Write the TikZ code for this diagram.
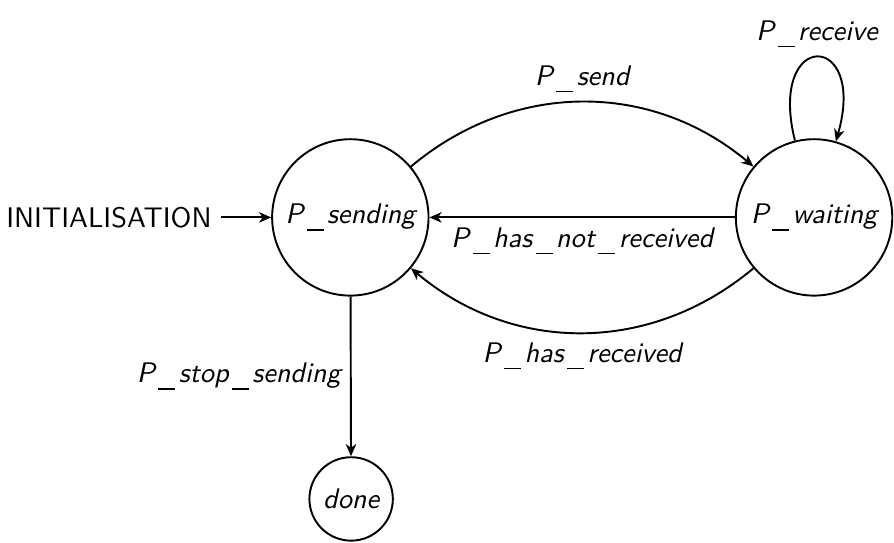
\documentclass[tikz,border=0pt]{standalone}
\usepackage{tikz}
\usetikzlibrary{arrows,arrows.meta,positioning}

% spaced underscore for the state names
\newcommand{\uscore}{\kern0.12em\rule[-0.24em]{0.6em}{0.05em}\kern0.12em}

\begin{document}
\begin{tikzpicture}[arrow/.style = {line width=0.7pt,-{Stealth[length=4.4pt,width=3.8pt,inset=1.3pt]}}]
		\tikzset{statenode/.style={draw,circle,line width=0.7pt,minimum size=2cm,font=\fontsize{10.3}{12}\sffamily\itshape}}
		\tikzset{lbl/.style={font=\fontsize{10.3}{12}\sffamily\itshape}}
		\useasboundingbox (0,0) rectangle (11.432,-6.931);

		\node[statenode] (sending) at (4.48,-2.78) {P\uscore sending};
		\node[statenode] (waiting) at (10.41,-2.78) {P\uscore waiting};
		\node[statenode, minimum size=0pt] (done) at (4.49,-6.38) {done};
		\node[anchor=east, font=\fontsize{10.3}{12}\sffamily] (init) at (2.83,-2.78) {INITIALISATION};

		\draw [arrow] (init) -- (sending);
		\draw [arrow] (sending) to[bend left=40] node [lbl, above] {P\uscore send} (waiting);
		\draw [arrow] (waiting) -- node [lbl, below] {P\uscore has\uscore not\uscore received} (sending);
		\draw [arrow] (waiting) to[bend left=40] node [lbl, below] {P\uscore has\uscore received} (sending);
		\draw [arrow] (waiting) to[out=104, in=74, looseness=7.2] node [lbl, above] {P\uscore receive} (waiting);
		\draw [arrow] (sending) -- node [lbl, left] {P\uscore stop\uscore sending} (done);

	\end{tikzpicture}
\end{document}
